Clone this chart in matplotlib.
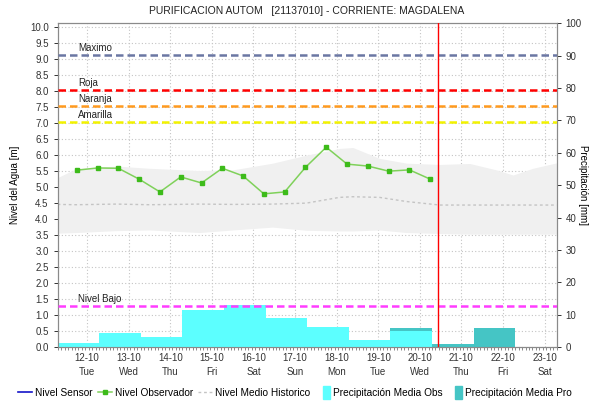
import matplotlib
matplotlib.use("Agg")
import matplotlib.pyplot as plt
import matplotlib.dates as mdates
import matplotlib.transforms as mtransforms
from matplotlib.lines import Line2D
from matplotlib.patches import Patch, Rectangle
from matplotlib.legend_handler import HandlerPatch
from matplotlib.ticker import FormatStrFormatter, MultipleLocator
import pandas as pd

plt.rcParams['font.family'] = ['Liberation Sans', 'DejaVu Sans']

title = "PURIFICACION AUTOM   [21137010] - CORRIENTE: MAGDALENA"

# Time window of the chart
t_start = pd.Timestamp("2021-10-11 07:00")
t_end = pd.Timestamp("2021-10-23 07:00")
forecast_start = pd.Timestamp("2021-10-20 10:30")
day0 = pd.Timestamp("2021-10-12 00:00")

# Observer readings (06:00 and 18:00)
obs_times = pd.date_range("2021-10-11 18:00", periods=18, freq="12h")
obs_level = [5.53, 5.60, 5.59, 5.25, 4.85, 5.32, 5.13, 5.59, 5.35,
             4.79, 4.85, 5.62, 6.25, 5.72, 5.66, 5.50, 5.54, 5.25]

# Historical envelope and mean level (days from 12-10 00:00)
hist_days = [-0.71, -0.26, 0.70, 1.50, 2.70, 3.50, 4.46, 5.27, 6.07,
             6.39, 7.03, 7.68, 8.48, 9.20, 9.84, 10.24, 10.72, 11.29]
hist_upper = [5.30, 5.58, 5.66, 5.59, 5.52, 5.54, 5.75, 6.00, 6.21,
              6.24, 5.90, 5.75, 5.71, 5.74, 5.54, 5.38, 5.59, 5.76]
hist_lower = [3.56, 3.58, 3.64, 3.66, 3.58, 3.66, 3.75, 3.65, 3.63,
              3.63, 3.66, 3.58, 3.55, 3.53, 3.53, 3.53, 3.53, 3.53]
hist_mean = [4.46, 4.45, 4.47, 4.45, 4.47, 4.46, 4.47, 4.50, 4.68,
             4.70, 4.68, 4.55, 4.44, 4.44, 4.44, 4.44, 4.44, 4.44]

# Daily precipitation (07:00 to 07:00), mm
precip_obs_start = pd.date_range("2021-10-11 07:00", periods=9, freq="D")
precip_obs = [1.3, 4.4, 3.2, 11.4, 13.1, 9.0, 6.2, 2.2, 4.9]
precip_first_hour = 22.2
precip_pro_start = pd.date_range("2021-10-19 07:00", periods=3, freq="D")
precip_pro = [5.8, 0.8, 6.0]

# Reference levels, m
thresholds = [("Maximo", 9.14, "#6b77a3"),
              ("Roja", 8.04, "#ff0000"),
              ("Naranja", 7.54, "#ff9a1f"),
              ("Amarilla", 7.03, "#f2f200"),
              ("Nivel Bajo", 1.27, "#ff3cff")]

hist_times = day0 + pd.to_timedelta(hist_days, unit="D")

fig = plt.figure(figsize=(5.9, 4.05), dpi=100)
ax = fig.add_axes([0.0978, 0.1432, 0.8458, 0.7993])
ax2 = ax.twinx()

# Water level axis
ax.fill_between(hist_times, hist_lower, hist_upper, color="#f0f0f0", lw=0, zorder=1)
ax.plot(hist_times, hist_mean, color="#c4c4c4", lw=1.0, ls=(0, (2, 2)), zorder=2)
ax.plot(obs_times, obs_level, color="#7fd15a", lw=1.1, marker="s", ms=3,
        mfc="#3dbb1a", mec="#3dbb1a", zorder=4)

ax.set_xlim(t_start, t_end)
ax.set_ylim(0, 10.125)
ax.yaxis.set_major_locator(MultipleLocator(0.5))
ax.yaxis.set_major_formatter(FormatStrFormatter("%.1f"))
ax.xaxis.set_major_locator(mdates.DayLocator())
ax.xaxis.set_major_formatter(mdates.DateFormatter("%d-%m\n%a"))
ax.xaxis.set_minor_locator(mdates.HourLocator(interval=2))
ax.grid(True, which="major", color="#c4c4c4", ls=(0, (1, 2)), lw=0.8)
ax.set_axisbelow(True)

# Precipitation axis
ax2.bar(precip_pro_start, precip_pro, width=1.0, align="edge", color="#45c5c5", lw=0, zorder=1)
ax2.bar(precip_obs_start, precip_obs, width=1.0, align="edge", color="#5cffff", lw=0, zorder=2)
ax2.bar([t_start], [precip_first_hour], width=1 / 24, align="edge", color="#5cffff", lw=0, zorder=2)
ax2.set_ylim(0, 100)
ax2.yaxis.set_major_locator(MultipleLocator(10))

# Reference levels drawn above the bars, positioned on the level axis
trans = mtransforms.blended_transform_factory(ax2.transAxes, ax.transData)
for name, value, color in thresholds:
    ax2.plot([0, 1], [value, value], transform=trans, color=color, lw=1.8,
             ls=(0, (3, 1.6)), zorder=5)
    ax2.text(0.041, value + 0.06, name, transform=trans, fontsize=7,
             color="#222222", va="bottom", ha="left", zorder=6)

ax2.axvline(forecast_start, color="#ff0000", lw=1.0, zorder=6)

for a in (ax, ax2):
    for s in a.spines.values():
        s.set_color("#8a8a8a")
        s.set_linewidth(0.8)
ax.tick_params(axis="both", which="major", labelsize=7, colors="#333333", length=3, width=0.7)
ax.tick_params(axis="x", which="major", length=0, pad=4)
ax.tick_params(axis="x", which="minor", length=2, width=0.6, color="#777777")
ax2.tick_params(axis="y", labelsize=7, colors="#333333", length=3, width=0.7)
for lab in ax.get_xticklabels():
    lab.set_linespacing(1.5)

ax.set_ylabel("Nivel del Agua [m]", fontsize=7)
ax.yaxis.set_label_coords(-0.075, 0.5)
ax2.set_ylabel("Precipitación [mm]", fontsize=7, rotation=270, va="center", ha="center")
ax2.yaxis.set_label_coords(1.052, 0.5)
fig.text(0.52, 0.972, title, fontsize=7.5, ha="center", va="center", color="#222222")


def narrow_patch(legend, orig_handle, xdescent, ydescent, width, height, fontsize):
    return Rectangle((-xdescent + width - 5, -ydescent - 2), 5, height + 4)


handles = [Line2D([], [], color="#1414c8", lw=1.2),
           Line2D([], [], color="#7fd15a", lw=1.1, marker="s", ms=2.5,
                  mfc="#3dbb1a", mec="#3dbb1a"),
           Line2D([], [], color="#c4c4c4", lw=1.0, ls=(0, (2, 2))),
           Patch(color="#5cffff"),
           Patch(color="#45c5c5")]
labels = ["Nivel Sensor", "Nivel Observador", "Nivel Medio Historico",
          "Precipitación Media Obs", "Precipitación Media Pro"]
fig.legend(handles, labels, loc="center left", bbox_to_anchor=(0.030, 0.03),
           ncol=5, frameon=False, fontsize=7.3, handlelength=1.4,
           handletextpad=0.3, columnspacing=0.5, borderaxespad=0, borderpad=0,
           handler_map={Patch: HandlerPatch(patch_func=narrow_patch)})

fig.savefig("out.png", dpi=100)
